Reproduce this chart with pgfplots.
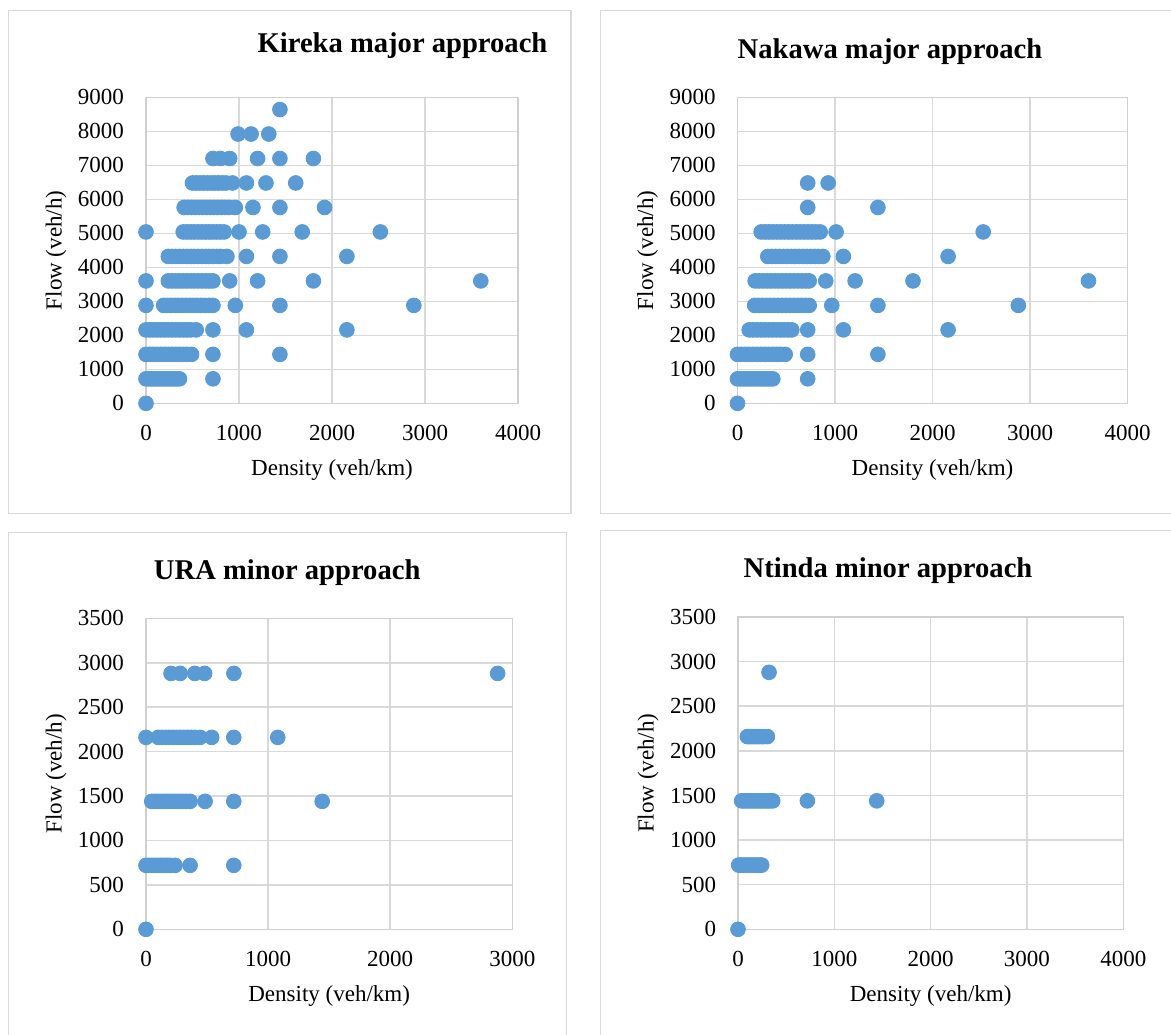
\documentclass[border=0pt]{standalone}
\usepackage{fontspec}
\setmainfont{Liberation Serif}
\usepackage{pgfplots}
\pgfplotsset{compat=1.18}
\definecolor{gridc}{HTML}{D9D9D9}
\definecolor{axc}{HTML}{D0D0D0}
\definecolor{dotc}{HTML}{5B9BD5}
\definecolor{framec}{HTML}{D9D9D9}
\pgfplotsset{
  panel/.style={
    scale only axis,
    anchor=south west,
    clip=false,
    grid=major,
    major grid style={draw=gridc, line width=0.75pt},
    axis line style={draw=axc, line width=0.75pt},
    major tick length=0pt,
    tick style={draw=none},
    /pgf/number format/assume math mode=true,
    /pgf/number format/1000 sep={},
    ticklabel style={font=\fontsize{11.5}{13}\selectfont, inner sep=0pt},
    yticklabel style={anchor=east, xshift=-10.8pt},
    xticklabel style={anchor=north, yshift=-10.85pt},
    label style={font=\fontsize{11.5}{13}\selectfont},
    xlabel={Density (veh/km)},
    ylabel={Flow (veh/h)},
    xlabel style={at={(axis description cs:0.5,0)}, anchor=base, yshift=-36pt},
  },
  dots/.style={only marks, mark=*, mark size=3.7pt, color=dotc, mark options={draw=none, fill=dotc}},
}
\begin{document}
\begin{tikzpicture}
\useasboundingbox (0,0) rectangle (585.5pt,-517pt);
\tikzset{tit/.style={font=\fontsize{14.3}{16}\selectfont\bfseries, anchor=base, inner sep=0pt}}
% frames
\draw[framec, line width=0.75pt] (4.2pt,-5.35pt) rectangle (285.5pt,-256.65pt);
\draw[framec, line width=0.75pt] (300.2pt,-5.35pt) rectangle (600pt,-256.65pt);
\draw[framec, line width=0.75pt] (4.2pt,-266.15pt) rectangle (283.2pt,-530pt);
\draw[framec, line width=0.75pt] (300.2pt,-265.35pt) rectangle (600pt,-530pt);
% titles
\node[tit] at (201.25pt,-26.35pt) {Kireka major approach};
\node[tit] at (445pt,-29.15pt) {Nakawa major approach};
\node[tit] at (143.6pt,-289.65pt) {URA minor approach};
\node[tit] at (444pt,-288.65pt) {Ntinda minor approach};

% Panel 1: Kireka
\begin{axis}[panel, at={(73pt,-201.65pt)}, width=186pt, height=153pt,
  xmin=0, xmax=4000, ymin=0, ymax=9000,
  xtick={0,1000,2000,3000,4000}, ytick={0,1000,...,9000},
  ylabel style={at={(axis description cs:-0.2419,0.5)}, anchor=center}]
\addplot[dots] coordinates {
(0,0)
(0,720)(30,720)(60,720)(90,720)(120,720)(150,720)(180,720)(210,720)(240,720)(270,720)(300,720)(330,720)(360,720)(720,720)
(0,1440)(40,1440)(80,1440)(120,1440)(160,1440)(200,1440)(240,1440)(280,1440)(320,1440)(360,1440)(400,1440)(440,1440)(490,1440)(720,1440)(1440,1440)
(0,2160)(40,2160)(80,2160)(120,2160)(160,2160)(200,2160)(240,2160)(280,2160)(320,2160)(360,2160)(400,2160)(440,2160)(480,2160)(540,2160)(720,2160)(1080,2160)(2160,2160)
(0,2880)(190,2880)(230,2880)(270,2880)(310,2880)(350,2880)(390,2880)(430,2880)(470,2880)(510,2880)(550,2880)(590,2880)(630,2880)(680,2880)(720,2880)(960,2880)(1440,2880)(2880,2880)
(0,3600)(240,3600)(280,3600)(320,3600)(360,3600)(400,3600)(440,3600)(480,3600)(520,3600)(560,3600)(600,3600)(640,3600)(680,3600)(720,3600)(900,3600)(1200,3600)(1800,3600)(3600,3600)
(240,4320)(280,4320)(320,4320)(360,4320)(400,4320)(440,4320)(480,4320)(520,4320)(560,4320)(600,4320)(640,4320)(680,4320)(720,4320)(760,4320)(800,4320)(870,4320)(1080,4320)(1440,4320)(2160,4320)
(0,5040)(400,5040)(440,5040)(480,5040)(520,5040)(560,5040)(600,5040)(640,5040)(680,5040)(720,5040)(760,5040)(800,5040)(840,5040)(1000,5040)(1255,5040)(1680,5040)(2520,5040)
(410,5760)(450,5760)(490,5760)(530,5760)(570,5760)(610,5760)(650,5760)(690,5760)(730,5760)(770,5760)(810,5760)(850,5760)(890,5760)(960,5760)(1150,5760)(1440,5760)(1920,5760)
(500,6480)(540,6480)(580,6480)(620,6480)(660,6480)(700,6480)(740,6480)(780,6480)(820,6480)(860,6480)(930,6480)(1080,6480)(1290,6480)(1610,6480)
(720,7200)(800,7200)(900,7200)(1200,7200)(1440,7200)(1800,7200)
(990,7920)(1130,7920)(1320,7920)
(1440,8640)
};
\end{axis}

% Panel 2: Nakawa
\begin{axis}[panel, at={(368.75pt,-201.65pt)}, width=195pt, height=153pt,
  xmin=0, xmax=4000, ymin=0, ymax=9000,
  xtick={0,1000,2000,3000,4000}, ytick={0,1000,...,9000},
  ylabel style={at={(axis description cs:-0.2308,0.5)}, anchor=center}]
\addplot[dots] coordinates {
(0,0)
(0,720)(30,720)(60,720)(90,720)(120,720)(150,720)(180,720)(210,720)(240,720)(270,720)(300,720)(330,720)(362,720)(720,720)
(0,1440)(40,1440)(80,1440)(120,1440)(160,1440)(200,1440)(240,1440)(280,1440)(320,1440)(360,1440)(400,1440)(440,1440)(489,1440)(720,1440)(1440,1440)
(120,2160)(160,2160)(200,2160)(240,2160)(280,2160)(320,2160)(360,2160)(400,2160)(440,2160)(480,2160)(520,2160)(557,2160)(720,2160)(1086,2160)(2160,2160)
(176,2880)(216,2880)(256,2880)(296,2880)(336,2880)(376,2880)(416,2880)(456,2880)(496,2880)(536,2880)(576,2880)(616,2880)(656,2880)(696,2880)(735,2880)(967,2880)(1440,2880)(2880,2880)
(181,3600)(221,3600)(261,3600)(301,3600)(341,3600)(381,3600)(421,3600)(461,3600)(501,3600)(541,3600)(581,3600)(621,3600)(661,3600)(701,3600)(735,3600)(905,3600)(1206,3600)(1800,3600)(3600,3600)
(311,4320)(351,4320)(391,4320)(431,4320)(471,4320)(511,4320)(551,4320)(591,4320)(631,4320)(671,4320)(711,4320)(751,4320)(791,4320)(831,4320)(875,4320)(1086,4320)(2160,4320)
(243,5040)(283,5040)(323,5040)(363,5040)(403,5040)(443,5040)(483,5040)(523,5040)(563,5040)(603,5040)(643,5040)(683,5040)(723,5040)(763,5040)(803,5040)(848,5040)(1011,5040)(2520,5040)
(720,5760)(1440,5760)
(720,6480)(930,6480)
};
\end{axis}

% Panel 3: URA
\begin{axis}[panel, at={(73pt,-464.65pt)}, width=183.15pt, height=155.5pt,
  xmin=0, xmax=3000, ymin=0, ymax=3500,
  xtick={0,1000,2000,3000}, ytick={0,500,...,3500},
  ylabel style={at={(axis description cs:-0.2457,0.5)}, anchor=center}]
\addplot[dots] coordinates {
(0,0)
(0,720)(25,720)(50,720)(75,720)(100,720)(125,720)(150,720)(175,720)(200,720)(238,720)(361,720)(719,720)
(47,1440)(75,1440)(100,1440)(125,1440)(150,1440)(175,1440)(200,1440)(225,1440)(250,1440)(275,1440)(300,1440)(330,1440)(361,1440)(484,1440)(719,1440)(1443,1440)
(0,2160)(101,2160)(130,2160)(160,2160)(190,2160)(220,2160)(250,2160)(280,2160)(310,2160)(340,2160)(370,2160)(400,2160)(443,2160)(538,2160)(719,2160)(1079,2160)
(205,2880)(280,2880)(400,2880)(480,2880)(720,2880)(2880,2880)
};
\end{axis}

% Panel 4: Ntinda
\begin{axis}[panel, at={(369pt,-464.65pt)}, width=192.65pt, height=156.15pt,
  xmin=0, xmax=4000, ymin=0, ymax=3500,
  xtick={0,1000,2000,3000,4000}, ytick={0,500,...,3500},
  ylabel style={at={(axis description cs:-0.2336,0.5)}, anchor=center}]
\addplot[dots] coordinates {
(0,0)
(7,720)(30,720)(55,720)(80,720)(105,720)(130,720)(155,720)(180,720)(205,720)(230,720)(246,720)
(38,1440)(60,1440)(85,1440)(110,1440)(135,1440)(160,1440)(185,1440)(210,1440)(235,1440)(260,1440)(285,1440)(310,1440)(335,1440)(360,1440)(720,1440)(1440,1440)
(97,2160)(120,2160)(145,2160)(170,2160)(195,2160)(220,2160)(245,2160)(270,2160)(305,2160)
(322,2880)
};
\end{axis}
\end{tikzpicture}
\end{document}
